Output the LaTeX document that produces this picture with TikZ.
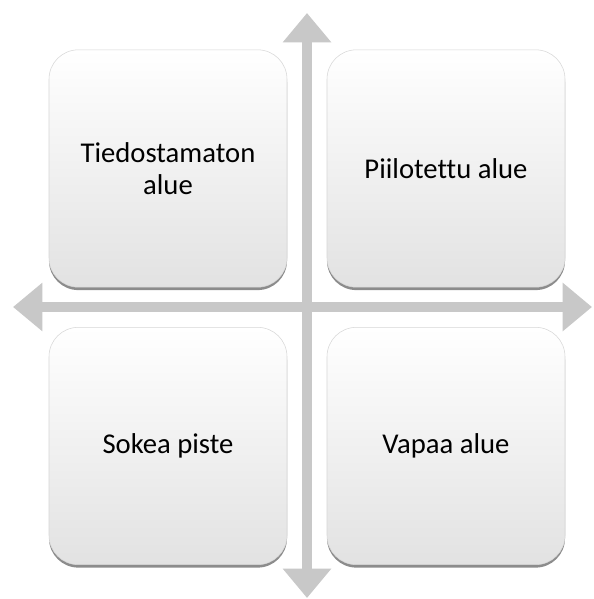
\documentclass[tikz,border=0pt]{standalone}
\usepackage{fontspec}
\setmainfont{Carlito}[Ligatures=NoCommon]
\usetikzlibrary{arrows.meta,shadows}

\definecolor{axisgray}{RGB}{200,200,200}
\definecolor{boxedge}{RGB}{215,215,215}
\definecolor{boxbottom}{RGB}{226,226,226}

\tikzset{
  quad/.style={rounded corners=22pt, minimum width=178.5pt, minimum height=178pt,
    draw=boxedge, line width=0.4pt, top color=white, middle color=white, bottom color=boxbottom,
    drop shadow={shadow xshift=0pt, shadow yshift=-2.2pt, fill=black, opacity=0.45},
    align=center, font=\fontsize{21.5}{23.7}\selectfont},
  axis/.style={axisgray, line width=7.9pt,
    {Triangle[length=22pt, width=35pt]}-{Triangle[length=22pt, width=35pt]}}
}

\begin{document}
\begin{tikzpicture}[x=0.75pt, y=-0.75pt]
\useasboundingbox[fill=white] (0,0) rectangle (593,599);

% axes
\coordinate(w) at (13, 307);
\coordinate(e) at (592, 307);
\coordinate(n) at (307, 13);
\coordinate(s) at (307, 598);
\draw[axis] (n) -- (s);
\draw[axis] (w) -- (e);

% quadrants
\node(q1)[quad] at (168, 168.5) {Tiedostamaton\\alue};
\node(q2)[quad] at (446, 168.5) {Piilotettu alue};
\node(q3)[quad] at (168, 446) {Sokea piste};
\node(q4)[quad] at (446, 446) {Vapaa alue};

\end{tikzpicture}
\end{document}
